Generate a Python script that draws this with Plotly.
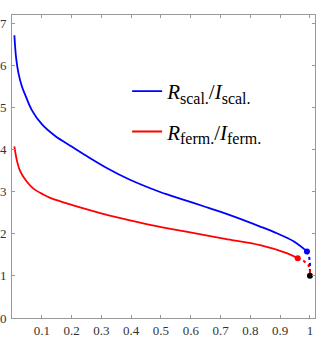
import plotly.graph_objects as go

# values
x_scal = [0.008, 0.014, 0.022, 0.033, 0.044, 0.066, 0.1, 0.145, 0.2, 0.256, 0.318, 0.396,
          0.497, 0.53, 0.609, 0.665, 0.72, 0.833, 0.889, 0.945, 0.99]
y_scal = [6.71, 6.16, 5.80, 5.50, 5.30, 4.94, 4.60, 4.32, 4.07, 3.82, 3.56, 3.28,
          2.99, 2.91, 2.73, 2.60, 2.47, 2.17, 2.01, 1.82, 1.58]
x_ferm = [0.008, 0.016, 0.027, 0.048, 0.072, 0.105, 0.128, 0.184, 0.24, 0.296, 0.357,
          0.463, 0.598, 0.715, 0.833, 0.922, 0.959]
y_ferm = [4.07, 3.75, 3.49, 3.25, 3.07, 2.93, 2.85, 2.72, 2.60, 2.49, 2.38,
          2.21, 2.03, 1.88, 1.73, 1.54, 1.42]
x_scal_dot = [0.99, 0.997, 1.0, 1.0]
y_scal_dot = [1.58, 1.47, 1.3, 1.0]
x_ferm_dot = [0.959, 0.978, 0.995, 1.0, 1.0]
y_ferm_dot = [1.42, 1.36, 1.26, 1.14, 1.0]
x_end, y_end = [1.0], [1.0]

xticks = [0.1, 0.2, 0.3, 0.4, 0.5, 0.6, 0.7, 0.8, 0.9, 1.0]
xlabels = ["0.1", "0.2", "0.3", "0.4", "0.5", "0.6", "0.7", "0.8", "0.9", "1"]
yticks = [0, 1, 2, 3, 4, 5, 6, 7]

blue, red = "#0000ff", "#ff0000"
serif = "Liberation Serif, DejaVu Serif, serif"
sub = "<sub><span style='font-size:16px'>%s</span></sub>"

fig = go.Figure()
fig.add_trace(go.Scatter(x=x_scal_dot, y=y_scal_dot, mode="lines", showlegend=False,
                         line=dict(color=blue, width=2, dash="dot")))
fig.add_trace(go.Scatter(x=x_ferm_dot, y=y_ferm_dot, mode="lines", showlegend=False,
                         line=dict(color=red, width=2, dash="dot")))
fig.add_trace(go.Scatter(x=x_scal, y=y_scal, mode="lines", legendgroup="a", line_shape="spline",
                         name="<i>R</i>" + sub % "scal." + "/<i>I</i>" + sub % "scal.",
                         line=dict(color=blue, width=1.8)))
fig.add_trace(go.Scatter(x=x_ferm, y=y_ferm, mode="lines", legendgroup="b", line_shape="spline",
                         name="<i>R</i>" + sub % "ferm." + "/<i>I</i>" + sub % "ferm.",
                         line=dict(color=red, width=1.8)))
fig.add_trace(go.Scatter(x=[x_scal[-1]], y=[y_scal[-1]], mode="markers", showlegend=False,
                         marker=dict(color=blue, size=6)))
fig.add_trace(go.Scatter(x=[x_ferm[-1]], y=[y_ferm[-1]], mode="markers", showlegend=False,
                         marker=dict(color=red, size=6)))
fig.add_trace(go.Scatter(x=x_end, y=y_end, mode="markers", showlegend=False,
                         marker=dict(color="black", size=6)))

axis = dict(showgrid=False, zeroline=False, showline=True, linecolor="#999999", linewidth=1,
            mirror="ticks", ticks="inside", ticklen=3, tickcolor="#999999", automargin=False,
            tickfont=dict(family=serif, size=13, color="#333333"))
fig.update_layout(
    width=323, height=340, margin=dict(l=12, r=8, t=15, b=22),
    paper_bgcolor="white", plot_bgcolor="white",
    xaxis=dict(axis, range=[0, 1.017], tickvals=xticks, ticktext=xlabels),
    yaxis=dict(axis, range=[0, 7.19], tickvals=yticks, ticklabelstandoff=2),
    legend=dict(x=0.38, y=0.815, xanchor="left", yanchor="top", bgcolor="rgba(0,0,0,0)",
                font=dict(family=serif, size=21, color="black"),
                traceorder="grouped", tracegroupgap=10),
)
# the page's default 8px body margin would shift the chart
fig.write_html("out.html", config={"displayModeBar": False},
               post_script="document.body.style.margin='0';")
